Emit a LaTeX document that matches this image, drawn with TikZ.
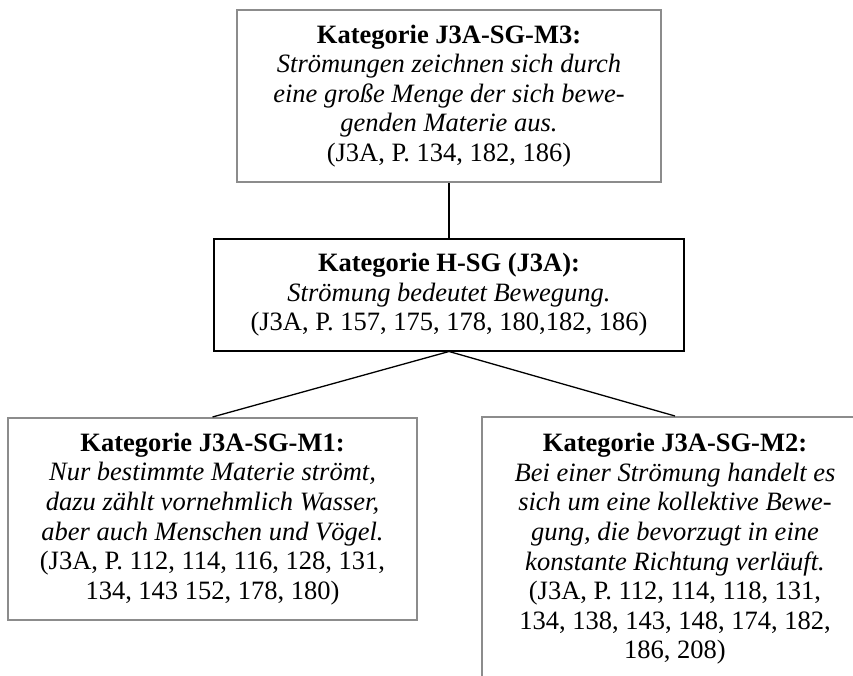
\documentclass[tikz,border=0pt]{standalone}
\usepackage{fontspec}
\setmainfont{Liberation Serif}
\begin{document}
\begin{tikzpicture}[x=1pt,y=-1pt,
  cat/.style={draw, line width=2pt, inner sep=0pt, align=center,
    font=\fontsize{26.5}{29.6}\selectfont},
  sub/.style={cat, draw=black!45},
  head/.style={cat, draw=black},
  link/.style={draw=black, line width=1.3pt}]
  \useasboundingbox[fill=white] (0,0) rectangle (853,676);
  \begin{scope}
    \clip (0,0) rectangle (853,676);
    % upper category
    \node[sub, minimum width=424pt, minimum height=172pt] (m3) at (449,96)
      {\textbf{Kategorie J3A-SG-M3:}\\
       \textit{Strömungen zeichnen sich durch}\\
       \textit{eine große Menge der sich bewe-}\\
       \textit{genden Materie aus.}\\
       (J3A, P. 134, 182, 186)};
    % main category
    \node[head, minimum width=470pt, minimum height=111pt] (hsg) at (449,295)
      {\textbf{Kategorie H-SG (J3A):}\\
       \textit{Strömung bedeutet Bewegung.}\\
       (J3A, P. 157, 175, 178, 180,182, 186)};
    % lower categories
    \node[sub, minimum width=409pt, minimum height=202pt] (m1) at (212.5,519)
      {\textbf{Kategorie J3A-SG-M1:}\\
       \textit{Nur bestimmte Materie strömt,}\\
       \textit{dazu zählt vornehmlich Wasser,}\\
       \textit{aber auch Menschen und Vögel.}\\
       (J3A, P. 112, 114, 116, 128, 131,\\
       134, 143 152, 178, 180)};
    \node[sub, minimum width=386pt, minimum height=264pt] (m2) at (675,549)
      {\textbf{Kategorie J3A-SG-M2:}\\
       \textit{Bei einer Strömung handelt es}\\
       \textit{sich um eine kollektive Bewe-}\\
       \textit{gung, die bevorzugt in eine}\\
       \textit{konstante Richtung verläuft.}\\
       (J3A, P. 112, 114, 118, 131,\\
       134, 138, 143, 148, 174, 182,\\
       186, 208)};
    % connectors
    \draw[link] (m3.south) -- (hsg.north);
    \draw[link] (hsg.south) -- (m1.north);
    \draw[link] (hsg.south) -- (m2.north);
  \end{scope}
\end{tikzpicture}
\end{document}
